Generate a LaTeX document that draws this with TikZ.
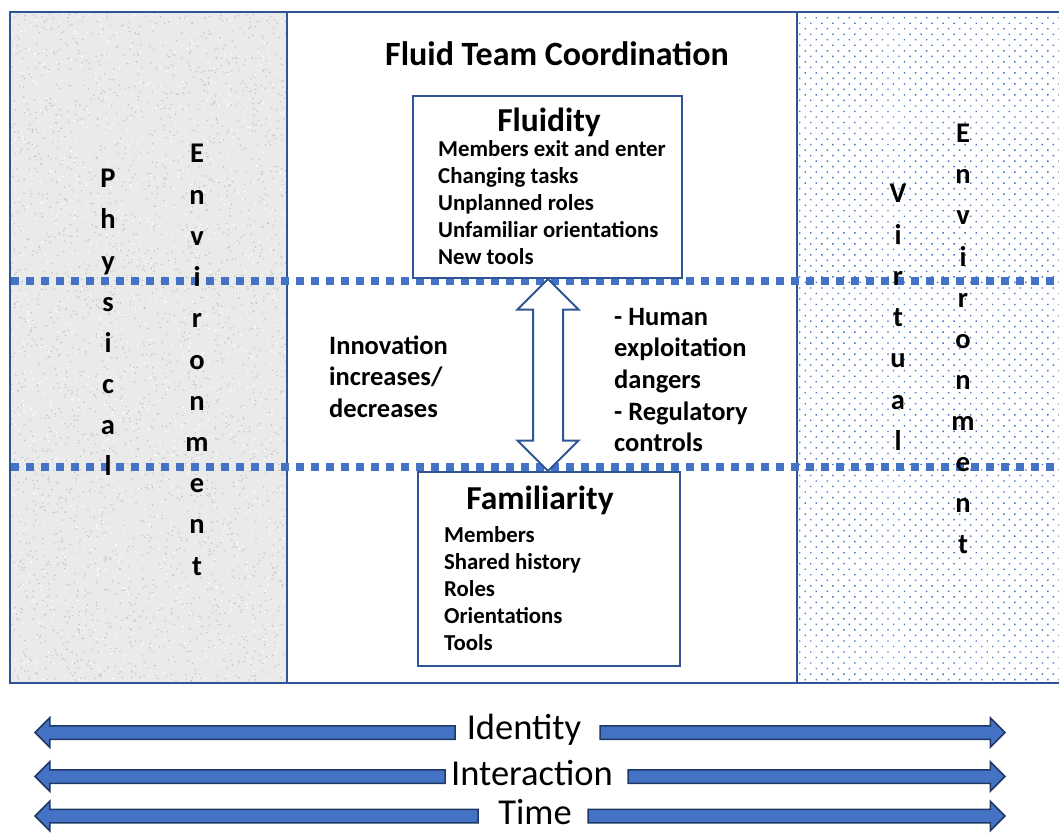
\documentclass[tikz,border=0pt]{standalone}
\usepackage{fontspec}
\setmainfont{Carlito}
\usetikzlibrary{shapes.arrows,patterns.meta,calc}

\definecolor{frameblue}{RGB}{47,85,151}
\definecolor{lineblue}{RGB}{68,114,196}
\definecolor{arrownavy}{RGB}{31,56,100}
\definecolor{paper}{RGB}{234,234,234}

\begin{document}
\begin{tikzpicture}[x=1pt,y=-1pt,
  panel/.style={draw=frameblue, line width=2.5pt},
  divider/.style={lineblue, line width=7.5pt, dash pattern=on 8pt off 7pt},
  box/.style={draw=frameblue, line width=2pt, fill=white, inner sep=0pt, anchor=north west},
  title/.style={font=\fontsize{34}{34}\selectfont\bfseries, inner sep=0pt, anchor=base},
  heading/.style={font=\fontsize{33.5}{33.5}\selectfont\bfseries, inner sep=0pt, anchor=base},
  item/.style={font=\fontsize{22.8}{22.8}\selectfont\bfseries, inner sep=0pt, anchor=base west},
  note/.style={font=\fontsize{26.5}{26.5}\selectfont\bfseries, inner sep=0pt, anchor=base west},
  vletter/.style={font=\fontsize{28.5}{28.5}\selectfont\bfseries, inner sep=0pt, anchor=base},
  scalelabel/.style={font=\fontsize{36.5}{36.5}\selectfont, inner sep=0pt, anchor=base},
  twoway/.style={double arrow, shape border rotate=90, draw=frameblue, line width=2pt, fill=white,
    inner xsep=14pt, inner ysep=0pt, double arrow head extend=15.5, double arrow head indent=0, outer sep=0pt},
  bararrow/.style={single arrow, draw=arrownavy, line width=1.5pt, fill=lineblue,
    inner xsep=0pt, inner ysep=6pt, single arrow head extend=8, single arrow head indent=0, outer sep=0pt, anchor=tip}]

  \useasboundingbox (0,0) rectangle (1059,834);
  \fill[white] (0,0) rectangle (1059,834);

  % physical side, grainy paper
  \fill[paper] (10,12) rectangle (287,683);
  \pgfmathsetseed{42}
  \foreach \k in {1,...,2600}
    \fill[black!24] ({11+275*rnd},{13+669*rnd}) circle (0.8);
  \foreach \k in {1,...,1200}
    \fill[white] ({11+275*rnd},{13+669*rnd}) circle (0.9);
  \draw[panel] (10,12) rectangle (287,683);

  % virtual side, dotted
  \fill[pattern={Dots[distance=7.8pt, angle=45, radius=1pt]}, pattern color=lineblue] (797,12) rectangle (1065,683);
  \draw[panel] (1065,12) -- (797,12) -- (797,683) -- (1065,683);

  % middle
  \draw[panel] (287,12) rectangle (797,683);

  \node[title] (title) at (557,65.7) {Fluid Team Coordination};

  % dividers
  \draw[divider] (11,281) -- (1062,281);
  \draw[divider] (11,467) -- (1062,467);

  % Fluidity
  \node[box, minimum width=269, minimum height=182] (flu) at (411.5,95) {};
  \node[heading] (fluhead) at (549,131.7) {Fluidity};
  \foreach \t [count=\i] in {Members exit and enter,Changing tasks,Unplanned roles,Unfamiliar orientations,New tools}
    \node[item] (flu\i) at (438,{157+27*(\i-1)}) {\t};

  % Familiarity
  \node[box, minimum width=262, minimum height=194] (fam) at (417,471) {};
  \node[heading] (famhead) at (540,509) {Familiarity};
  \foreach \t [count=\i] in {Members,Shared history,Roles,Orientations,Tools}
    \node[item] (fam\i) at (444,{542.3+27.1*(\i-1)}) {\t};

  \node[twoway, minimum height=192] (link) at ($(flu.south)!0.5!(fam.north)$) {};

  \foreach \t [count=\i] in {Innovation,increases/,decreases}
    \node[note] (inn\i) at (329,{354+31.5*(\i-1)}) {\t};
  \foreach \t [count=\i] in {- Human,exploitation,dangers,- Regulatory,controls}
    \node[note] (risk\i) at (614,{325+31.7*(\i-1)}) {\t};

  % stacked letters
  \foreach \c [count=\i] in {P,h,y,s,i,c,a,l}
    \node[vletter] (phy\i) at (108,{188+41*(\i-1)}) {\c};
  \foreach \c [count=\i] in {E,n,v,i,r,o,n,m,e,n,t}
    \node[vletter] (envl\i) at (197,{163+41.2*(\i-1)}) {\c};
  \foreach \c [count=\i] in {V,i,r,t,u,a,l}
    \node[vletter] (vir\i) at (898,{203+41.2*(\i-1)}) {\c};
  \foreach \c [count=\i] in {E,n,v,i,r,o,n,m,e,n,t}
    \node[vletter] (envr\i) at (963,{143+41*(\i-1)}) {\c};

  % bottom scales
  \node[scalelabel] (ident) at (524,739) {Identity};
  \node[bararrow, shape border rotate=180, minimum height=420] (identl) at (35,732.5) {};
  \node[bararrow, minimum height=405] (identr) at (1005,732.5) {};

  \node[scalelabel] (inter) at (532,785) {Interaction};
  \node[bararrow, shape border rotate=180, minimum height=410] (interl) at (35,776.5) {};
  \node[bararrow, minimum height=377] (interr) at (1005,776.5) {};

  \node[scalelabel] (time) at (535,824) {Time};
  \node[bararrow, shape border rotate=180, minimum height=443] (timel) at (35,816) {};
  \node[bararrow, minimum height=417] (timer) at (1005,816) {};
\end{tikzpicture}
\end{document}
